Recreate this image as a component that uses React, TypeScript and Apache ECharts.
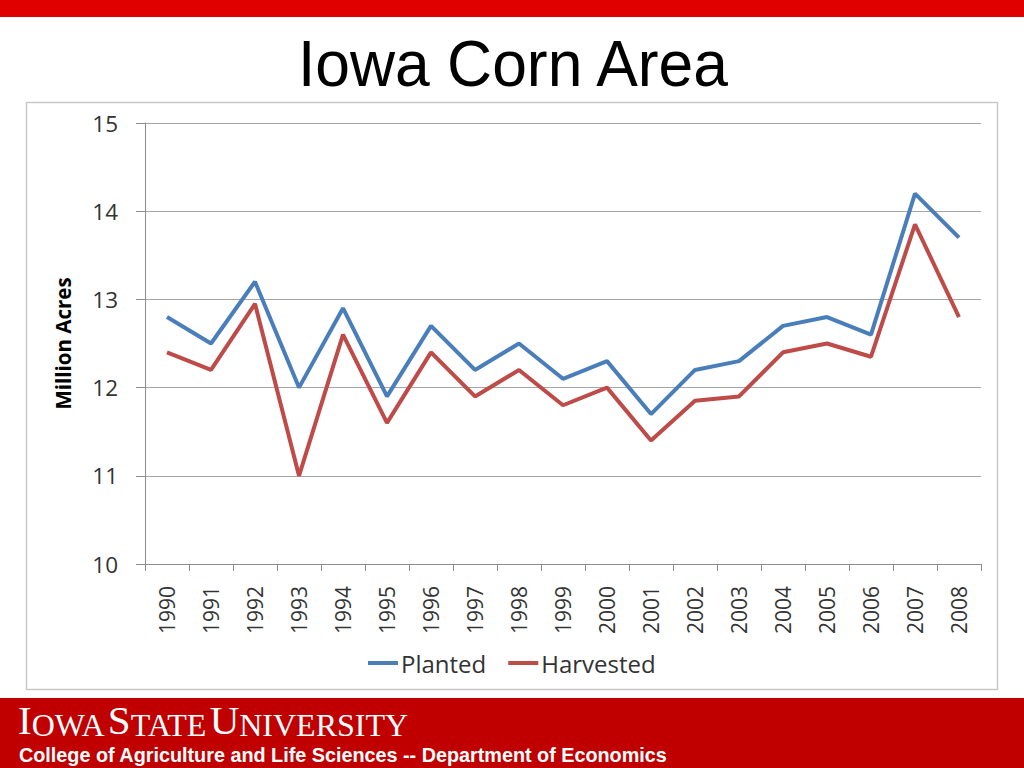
import React, { useEffect, useRef } from "react";
import * as echarts from "echarts";

const years = ["1990", "1991", "1992", "1993", "1994", "1995", "1996", "1997", "1998", "1999", "2000", "2001", "2002", "2003", "2004", "2005", "2006", "2007", "2008"];
const planted = [12.8, 12.5, 13.2, 12.0, 12.9, 11.9, 12.7, 12.2, 12.5, 12.1, 12.3, 11.7, 12.2, 12.3, 12.7, 12.8, 12.6, 14.2, 13.7];
const harvested = [12.4, 12.2, 12.95, 11.0, 12.6, 11.6, 12.4, 11.9, 12.2, 11.8, 12.0, 11.4, 11.85, 11.9, 12.4, 12.5, 12.35, 13.85, 12.8];
const seriesNames = ["Planted", "Harvested"];
const yMin = 10;
const yMax = 15;
const yStep = 1;
const titleText = "Iowa Corn Area";
const yAxisTitle = "Million Acres";
const footerLine = "College of Agriculture and Life Sciences -- Department of Economics";

export default function App() {
  const ref = useRef<HTMLDivElement>(null);

  useEffect(() => {
    if (!ref.current) return;
    const chart = echarts.init(ref.current, undefined, { renderer: "svg" });
    const chartFont = "'Open Sans', sans-serif";
    const serif = "'Liberation Serif', 'Times New Roman', serif";
    chart.setOption({
      animation: false,
      backgroundColor: "#ffffff",
      graphic: [
        { type: "rect", shape: { x: 0, y: 0, width: 1024, height: 17 }, style: { fill: "#e00000" }, z: 0 },
        { type: "rect", shape: { x: 26.5, y: 102.5, width: 971, height: 587 }, style: { fill: "none", stroke: "#c8c8c8", lineWidth: 1.5 }, z: 0 },
        { type: "rect", shape: { x: 0, y: 698, width: 1024, height: 70 }, style: { fill: "#c00000" }, z: 0 },
        {
          type: "text",
          x: 513,
          y: 64,
          scaleX: 0.975,
          style: {
            text: titleText,
            fill: "#000000",
            font: "64px 'Liberation Sans', Arial, sans-serif",
            align: "center",
            verticalAlign: "middle",
          },
        },
        {
          type: "text",
          x: 18,
          y: 720,
          style: {
            text: "{b|I}{s|OWA} {b|S}{s|TATE} {b|U}{s|NIVERSITY}",
            fill: "#ffffff",
            verticalAlign: "middle",
            rich: {
              b: { fontFamily: serif, fontSize: 41, fill: "#ffffff", verticalAlign: "bottom" },
              s: { fontFamily: serif, fontSize: 32, fill: "#ffffff", verticalAlign: "bottom" },
            },
          },
        },
        {
          type: "text",
          x: 19,
          y: 755,
          style: {
            text: footerLine,
            fill: "#ffffff",
            font: "bold 19.8px 'Liberation Sans', Arial, sans-serif",
            verticalAlign: "middle",
          },
        },
      ],
      grid: { left: 145, right: 43, top: 123, bottom: 204, containLabel: false },
      legend: {
        data: seriesNames,
        left: 368,
        top: 651,
        padding: 0,
        icon: "rect",
        itemWidth: 30,
        itemHeight: 4,
        itemGap: 22,
        textStyle: { fontFamily: chartFont, fontSize: 24, color: "#333333", padding: [0, 0, 0, -2] },
      },
      xAxis: {
        type: "category",
        data: years,
        boundaryGap: true,
        axisLine: { show: true, lineStyle: { color: "#8c8c8c", width: 1 } },
        axisTick: { show: true, length: 7, lineStyle: { color: "#8c8c8c" } },
        axisLabel: { rotate: 90, margin: 22, fontFamily: chartFont, fontSize: 21, color: "#333333", interval: 0 },
        splitLine: { show: false },
      },
      yAxis: {
        type: "value",
        min: yMin,
        max: yMax,
        interval: yStep,
        name: yAxisTitle,
        nameLocation: "middle",
        nameRotate: 90,
        nameGap: 72,
        nameTextStyle: { fontFamily: chartFont, fontSize: 20.5, fontWeight: "bold", color: "#000000" },
        axisLine: { show: true, lineStyle: { color: "#8c8c8c", width: 1 } },
        axisTick: { show: true, length: 9, lineStyle: { color: "#8c8c8c" } },
        axisLabel: { margin: 27, fontFamily: chartFont, fontSize: 22.5, color: "#333333" },
        splitLine: { show: true, lineStyle: { color: "#a6a6a6", width: 1 } },
      },
      series: [
        {
          name: seriesNames[0],
          type: "line",
          data: planted,
          symbol: "none",
          color: "#4a7ebb",
          lineStyle: { width: 4, color: "#4a7ebb" },
        },
        {
          name: seriesNames[1],
          type: "line",
          data: harvested,
          symbol: "none",
          color: "#be4b48",
          lineStyle: { width: 4, color: "#be4b48" },
        },
      ],
    });
    return () => chart.dispose();
  }, []);

  return (
    <div
      ref={ref}
      style={{ position: "absolute", left: 0, top: 0, width: 1024, height: 768 }}
    />
  );
}
